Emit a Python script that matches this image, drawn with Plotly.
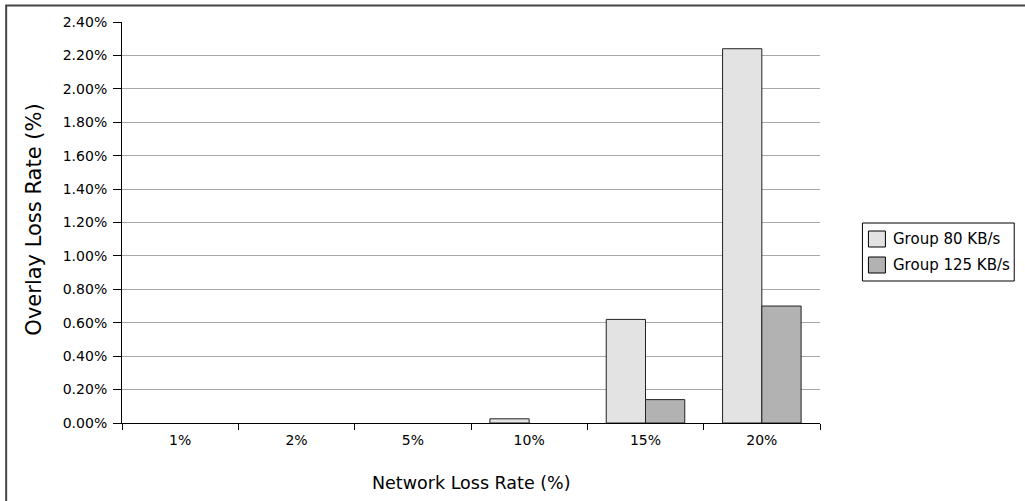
import plotly.graph_objects as go

# Network loss rate categories and overlay loss rate per group (fractions)
categories = ["1%", "2%", "5%", "10%", "15%", "20%"]
group_80 = [0.0, 0.0, 0.0, 0.00025, 0.0062, 0.0224]
group_125 = [0.0, 0.0, 0.0, 0.0, 0.0014, 0.0070]
series_names = ["Group 80 KB/s", "Group 125 KB/s"]
series_colors = ["#e3e3e3", "#b2b2b2"]
y_ticks = [i * 0.002 for i in range(13)]

W, H = 1025, 501
L, R, T, B = 121.5, 204.5, 22, 78
pw, ph = W - L - R, H - T - B

FAM = "DejaVu Sans, Liberation Sans, Arial, sans-serif"
font = dict(family=FAM, size=14, color="#000")


def px_x(p):
    return (p - L) / pw


def px_y(p):
    return (H - B - p) / ph


fig = go.Figure()
for name, vals, col in zip(series_names, [group_80, group_125], series_colors):
    # empty bars get no outline so nothing is drawn at zero
    widths = [1 if v > 0 else 0 for v in vals]
    fig.add_trace(go.Bar(x=categories, y=vals, name=name, showlegend=False,
                         marker=dict(color=col, line=dict(color="#222", width=widths))))

# legend box drawn by hand: frame, swatches and labels
shapes = [
    dict(type="rect", xref="paper", yref="paper",
         x0=px_x(863), x1=px_x(1015), y0=px_y(223), y1=px_y(281),
         line=dict(color="#000", width=1), fillcolor="white", layer="above"),
    dict(type="path", xref="paper", yref="paper",
         path=f"M {px_x(5.5)} {px_y(520)} L {px_x(5.5)} {px_y(5.5)} L {px_x(1040)} {px_y(5.5)}",
         line=dict(color="#444", width=2)),
]
annotations = []
for i, (name, col) in enumerate(zip(series_names, series_colors)):
    top = 231 + i * 26
    shapes.append(dict(type="rect", xref="paper", yref="paper",
                       x0=px_x(869), x1=px_x(886), y0=px_y(top), y1=px_y(top + 16),
                       line=dict(color="#000", width=1), fillcolor=col, layer="above"))
    annotations.append(dict(text=name, xref="paper", yref="paper",
                            x=px_x(892), y=px_y(top + 8), xanchor="left", yanchor="middle",
                            showarrow=False, font=dict(family=FAM, size=15, color="#000")))

# axis titles
annotations.append(dict(text="Network Loss Rate (%)", xref="paper", yref="paper",
                        x=px_x(471), y=px_y(483), xanchor="center", yanchor="middle",
                        showarrow=False, font=dict(family=FAM, size=17.5, color="#000")))
annotations.append(dict(text="Overlay Loss Rate (%)", xref="paper", yref="paper",
                        x=px_x(33), y=px_y(220), xanchor="center", yanchor="middle",
                        textangle=-90, showarrow=False,
                        font=dict(family=FAM, size=21, color="#000")))

fig.update_layout(
    width=W, height=H,
    margin=dict(l=L, r=R, t=T, b=B, autoexpand=False),
    paper_bgcolor="white", plot_bgcolor="white",
    font=font,
    barmode="group", bargap=0.325, bargroupgap=0,
    showlegend=False,
    xaxis=dict(
        type="category", tickson="boundaries", ticks="outside", ticklen=6,
        tickcolor="#000", showline=True, linecolor="#000", linewidth=1,
        showgrid=False, tickfont=dict(size=14), ticklabelstandoff=4,
    ),
    yaxis=dict(
        range=[0, 0.024], tickvals=y_ticks, tickformat=".2%",
        ticks="outside", ticklen=8, tickcolor="#000",
        showline=True, linecolor="#000", linewidth=1,
        showgrid=True, gridcolor="#a8a8a8", gridwidth=1, zeroline=False,
        tickfont=dict(size=14), ticklabelstandoff=3,
    ),
    shapes=shapes,
    annotations=annotations,
)

fig.write_html("out.html")
